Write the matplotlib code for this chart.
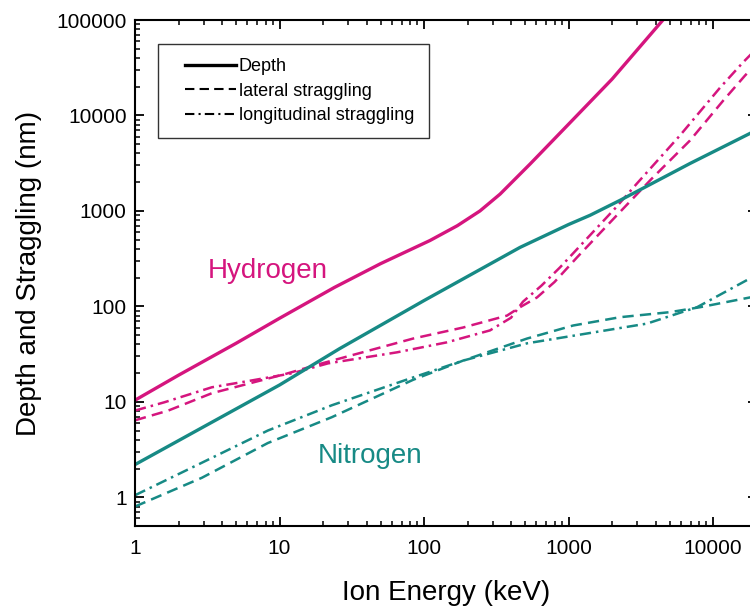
import matplotlib
matplotlib.use("Agg")
import matplotlib.pyplot as plt
import numpy as np
from matplotlib.lines import Line2D
from matplotlib.legend_handler import HandlerLine2D
from matplotlib.ticker import FuncFormatter, NullFormatter

plt.rcParams['font.family'] = ['Liberation Sans', 'DejaVu Sans']

magenta = '#d5157e'
teal = '#178a85'

# Hydrogen (keV -> nm)
h_depth_e = [1, 2, 5, 10, 24, 50, 110, 170, 244, 336, 542, 977, 2000, 4500, 5200]
h_depth = [10.4, 19, 41, 75, 158, 280, 490, 700, 1000, 1500, 3100, 7800, 24000, 100000, 126000]

h_lat_e = [1, 1.7, 3.4, 10.9, 19.7, 84, 186, 375, 462, 605, 800, 1145, 2155, 3765, 6930, 11780, 16650, 21000]
h_lat = [6.4, 8.1, 12.3, 19.5, 25.3, 46, 60, 80, 98, 124, 180, 326, 897, 2175, 5470, 14350, 26200, 38000]

h_lon_e = [1, 1.6, 3.4, 6.5, 12.2, 21.7, 65, 144, 286, 400, 484, 650, 873, 2100, 2965, 5910, 11200, 16100, 21000]
h_lon = [8.1, 9.9, 14.2, 16.8, 19.9, 25.3, 33, 42, 56, 76, 112, 165, 256, 1063, 1927, 6180, 19600, 35900, 54000]

# Nitrogen
n_depth_e = [1, 3, 10, 26, 100, 462, 1000, 1409, 2270, 6930, 18000, 21000]
n_depth = [2.2, 5.5, 15, 36, 115, 415, 720, 900, 1290, 3140, 6480, 7300]

n_lat_e = [1, 2.9, 8.3, 23, 84, 186, 516, 1075, 2270, 5040, 8130, 18000, 21000]
n_lat = [0.8, 1.6, 3.7, 6.9, 17, 27, 46, 63, 77, 87, 98, 124, 130]

n_lon_e = [1, 2.9, 8.3, 23, 84, 186, 516, 1343, 3490, 7750, 18000, 21000]
n_lon = [1.05, 2.3, 5.0, 9.2, 18, 27, 41, 52, 66, 98, 196, 225]

x_ticks = [1, 10, 100, 1000, 10000]
y_ticks = [1, 10, 100, 1000, 10000, 100000]

dashed = (0, (4.5, 2.5))
dashdot = (0, (4.5, 2.0, 1.0, 2.0))

fig = plt.figure(figsize=(7.5, 6.12), dpi=100)
ax = fig.add_axes([0.18, 0.1405, 0.8287, 0.8268])
ax.set_xscale('log')
ax.set_yscale('log')

ax.plot(h_depth_e, h_depth, color=magenta, lw=2.4)
ax.plot(h_lat_e, h_lat, color=magenta, lw=1.8, linestyle=dashed)
ax.plot(h_lon_e, h_lon, color=magenta, lw=1.8, linestyle=dashdot)
ax.plot(n_depth_e, n_depth, color=teal, lw=2.4)
ax.plot(n_lat_e, n_lat, color=teal, lw=1.8, linestyle=dashed)
ax.plot(n_lon_e, n_lon, color=teal, lw=1.8, linestyle=dashdot)

ax.text(3.2, 200, 'Hydrogen', color=magenta, fontsize=20, ha='left', va='baseline')
ax.text(18.5, 2.27, 'Nitrogen', color=teal, fontsize=20, ha='left', va='baseline')

# minor ticks 2..9 in every decade
x_minor = [m * d for d in [0.1] + x_ticks for m in range(2, 10)]
y_minor = [m * d for d in [0.1] + y_ticks for m in range(2, 10)]

fmt = FuncFormatter(lambda v, p: f'{v:g}')
ax.set_xticks(x_ticks)
ax.set_yticks(y_ticks)
ax.set_xticks(x_minor, minor=True)
ax.set_yticks(y_minor, minor=True)
ax.xaxis.set_major_formatter(fmt)
ax.yaxis.set_major_formatter(fmt)
ax.xaxis.set_minor_formatter(NullFormatter())
ax.yaxis.set_minor_formatter(NullFormatter())
ax.set_xlim(1, 20000)
ax.set_ylim(0.5, 100000)

ax.tick_params(which='both', direction='in', top=True, right=True, labelsize=15)
ax.tick_params(which='major', length=6.5, width=1.3)
ax.tick_params(which='minor', length=3.5, width=1.1)
ax.tick_params(axis='x', which='major', pad=9)
ax.tick_params(axis='y', which='major', pad=6)
for s in ax.spines.values():
    s.set_linewidth(1.5)

ax.set_xlabel('Ion Energy (keV)', fontsize=20, labelpad=16)
ax.set_ylabel('Depth and Straggling (nm)', fontsize=20, labelpad=10)

handles = [Line2D([], [], color='black', lw=2.4),
           Line2D([], [], color='black', lw=1.5, linestyle=dashed),
           Line2D([], [], color='black', lw=1.5, linestyle=dashdot)]
labels = ['Depth', 'lateral straggling', 'longitudinal straggling']
hmap = {h: HandlerLine2D(marker_pad=0, xpad=0.7) for h in handles}
leg = ax.legend(handles, labels, loc='upper left', bbox_to_anchor=(0.037, 0.9526),
                borderaxespad=0, fontsize=13, frameon=True, fancybox=False,
                edgecolor='black', handlelength=3.53, handletextpad=0.15,
                labelspacing=0.4, borderpad=0.8, handler_map=hmap)
leg.get_frame().set_linewidth(1.0)

fig.savefig('out.png', dpi=100)
